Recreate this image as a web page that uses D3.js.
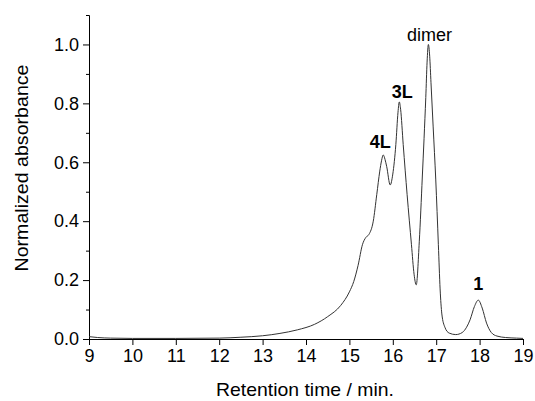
<!DOCTYPE html>
<html>
<head>
<meta charset="utf-8">
<script src="https://cdn.jsdelivr.net/npm/d3@7"></script>
<style>
  body { margin: 0; background: #fff; }
  svg { display: block; font-family: Arial, "Liberation Sans", sans-serif; }
  .axis path, .axis line { stroke: #000; }
  .axis text { font-size: 18px; fill: #000; font-family: Arial, "Liberation Sans", sans-serif; }
  .ax-title { font-size: 19px; fill: #000; }
  .peak-label { font-size: 18px; fill: #000; }
</style>
</head>
<body>
<div id="chart"></div>
<script>
// retention time (min) and normalized absorbance
const time = [9.0, 9.2, 9.5, 10, 11, 12, 12.5, 13, 13.4, 13.8, 14.2, 14.5, 14.8, 15.0, 15.1,
  15.2, 15.3, 15.38, 15.45, 15.55, 15.63, 15.7, 15.74, 15.78, 15.82, 15.86, 15.94, 16.0, 16.07,
  16.12, 16.15, 16.18, 16.24, 16.33, 16.43, 16.49, 16.54, 16.61, 16.68, 16.72, 16.76, 16.79, 16.82,
  16.85, 16.88, 16.93, 16.99, 17.05, 17.09, 17.13, 17.2, 17.3, 17.45, 17.6, 17.7, 17.78, 17.88,
  17.97, 18.06, 18.16, 18.27, 18.4, 18.6, 18.85, 19.0];
const absorbance = [0.008, 0.005, 0.003, 0.002, 0.002, 0.003, 0.006, 0.011, 0.019, 0.031, 0.050,
  0.076, 0.114, 0.16, 0.195, 0.25, 0.32, 0.345, 0.355, 0.40, 0.49, 0.57, 0.605, 0.625, 0.61, 0.585,
  0.523, 0.56, 0.66, 0.77, 0.805, 0.78, 0.66, 0.49, 0.32, 0.22, 0.184, 0.33, 0.55, 0.68, 0.82, 0.94,
  1.0, 0.96, 0.87, 0.72, 0.54, 0.32, 0.17, 0.085, 0.04, 0.02, 0.015, 0.022, 0.04, 0.065, 0.11,
  0.132, 0.105, 0.054, 0.022, 0.01, 0.005, 0.003, 0.002];

const peakNames = ['4L', '3L', 'dimer', '1'];
const peakTimes = [15.78, 16.15, 16.82, 17.97];
const peakHeights = [0.625, 0.805, 1.0, 0.132];
const peakBold = [true, true, false, true];

const xTicks = d3.range(9, 20, 1);
const yTicks = [0.0, 0.2, 0.4, 0.6, 0.8, 1.0];
const yMinor = [0.1, 0.3, 0.5, 0.7, 0.9, 1.1];

const W = 535, H = 401;
const margin = { top: 15, right: 12, bottom: 62, left: 89 };
const width = W - margin.left - margin.right;
const height = H - margin.top - margin.bottom;

// nudges of the peak labels relative to their peak tops
const labelDx = [-3, 3, 1, 0];
const labelDy = [-7, -4, -3, -10];

const svg = d3.select('#chart').append('svg')
  .attr('width', W)
  .attr('height', H);

const g = svg.append('g')
  .attr('transform', `translate(${margin.left}, ${margin.top})`);

const x = d3.scaleLinear().domain([9, 19]).range([0, width]);
const y = d3.scaleLinear().domain([0, 1.1]).range([height, 0]);

// axes
g.append('g')
  .attr('class', 'axis')
  .attr('transform', `translate(0, ${height})`)
  .call(d3.axisBottom(x).tickValues(xTicks).tickFormat(d3.format('d')).tickSize(6).tickSizeOuter(0).tickPadding(4));

g.append('g')
  .attr('class', 'axis')
  .call(d3.axisLeft(y).tickValues(yMinor).tickFormat('').tickSize(3).tickSizeOuter(0));

g.append('g')
  .attr('class', 'axis')
  .call(d3.axisLeft(y).tickValues(yTicks).tickFormat(d3.format('.1f')).tickSize(6).tickSizeOuter(0).tickPadding(4));

// trace
const pts = time.map((t, i) => [t, absorbance[i]]);
const line = d3.line()
  .x(d => x(d[0]))
  .y(d => y(d[1]))
  .curve(d3.curveMonotoneX);

g.append('path')
  .datum(pts)
  .attr('fill', 'none')
  .attr('stroke', '#333')
  .attr('stroke-width', 1)
  .attr('d', line);

// peak labels
g.selectAll('.peak-label')
  .data(peakNames)
  .join('text')
  .attr('class', 'peak-label')
  .attr('text-anchor', 'middle')
  .attr('font-weight', (d, i) => peakBold[i] ? 'bold' : 'normal')
  .attr('x', (d, i) => x(peakTimes[i]) + labelDx[i])
  .attr('y', (d, i) => y(peakHeights[i]) + labelDy[i])
  .text(d => d);

// axis titles
svg.append('text')
  .attr('class', 'ax-title')
  .attr('text-anchor', 'middle')
  .attr('x', 305)
  .attr('y', 396)
  .attr('textLength', 178)
  .attr('lengthAdjust', 'spacingAndGlyphs')
  .text('Retention time / min.');

svg.append('text')
  .attr('class', 'ax-title')
  .attr('text-anchor', 'middle')
  .attr('transform', 'translate(28, 168) rotate(-90)')
  .attr('textLength', 207)
  .attr('lengthAdjust', 'spacingAndGlyphs')
  .text('Normalized absorbance');
</script>
</body>
</html>
